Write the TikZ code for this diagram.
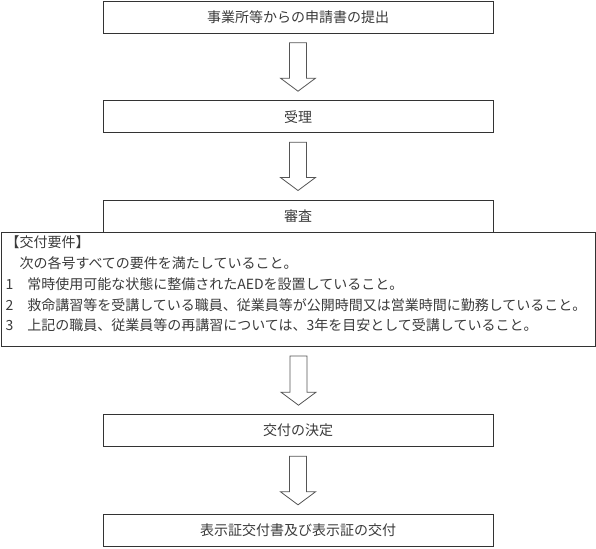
\documentclass[tikz,border=0pt]{standalone}
\usepackage{fontspec}
\setmainfont{Noto Sans CJK JP}
\definecolor{linegray}{HTML}{333333}
\definecolor{arrowgray}{HTML}{555555}
\definecolor{textgray}{HTML}{3A3A3A}
\tikzset{flowbox/.style={draw=linegray, line width=1pt,
        minimum width=390pt, minimum height=32pt, inner sep=0pt,
        text=textgray, font=\fontsize{14}{17}\selectfont},
    reqbox/.style={draw=linegray, line width=1pt, anchor=north west,
        minimum width=594pt, minimum height=114pt, text width=586pt,
        inner xsep=3pt, inner ysep=3pt, align=left,
        text=textgray, font=\fontsize{14}{20.7}\selectfont},
    }
% hollow block arrow from the bottom of #1 to the top of #2
\newcommand\flowarrow[2]{%
  \path let \p1=(#1.south), \p2=(#2.north) in
    [draw=arrowgray, line width=.8pt]
    (\x1-8.5pt,\y1-9pt) -- (\x1+8.5pt,\y1-9pt) -- (\x1+8.5pt,\y2+22pt)
    -- (\x1+17.5pt,\y2+22pt) -- (\x1,\y2+9pt) -- (\x1-17.5pt,\y2+22pt)
    -- (\x1-8.5pt,\y2+22pt) -- cycle;}
\usetikzlibrary{calc}

\begin{document}
\begin{tikzpicture}[x=1pt,y=-1pt]
	\useasboundingbox (0,0) rectangle (596,548);
	\node[flowbox] (submit) at (298,17.3) {事業所等からの申請書の提出};
	\node[flowbox] (accept) at (298,116.7) {受理};
	\node[flowbox] (review) at (298,216) {審査};
	\node[reqbox] (req) at (1,232) {【交付要件】\\
		　次の各号すべての要件を満たしていること。\\
		1　常時使用可能な状態に整備されたAEDを設置していること。\\
		2　救命講習等を受講している職員、従業員等が公開時間又は営業時間に勤務していること。\\
		3　上記の職員、従業員等の再講習については、3年を目安として受講していること。\par\vspace*{11pt}};
	\node[flowbox] (decide) at (298,430.7) {交付の決定};
	\node[flowbox] (issue) at (298,530.3) {表示証交付書及び表示証の交付};
	\flowarrow{submit}{accept}
	\flowarrow{accept}{review}
	\flowarrow{req}{decide}
	\flowarrow{decide}{issue}
\end{tikzpicture}
\end{document}
